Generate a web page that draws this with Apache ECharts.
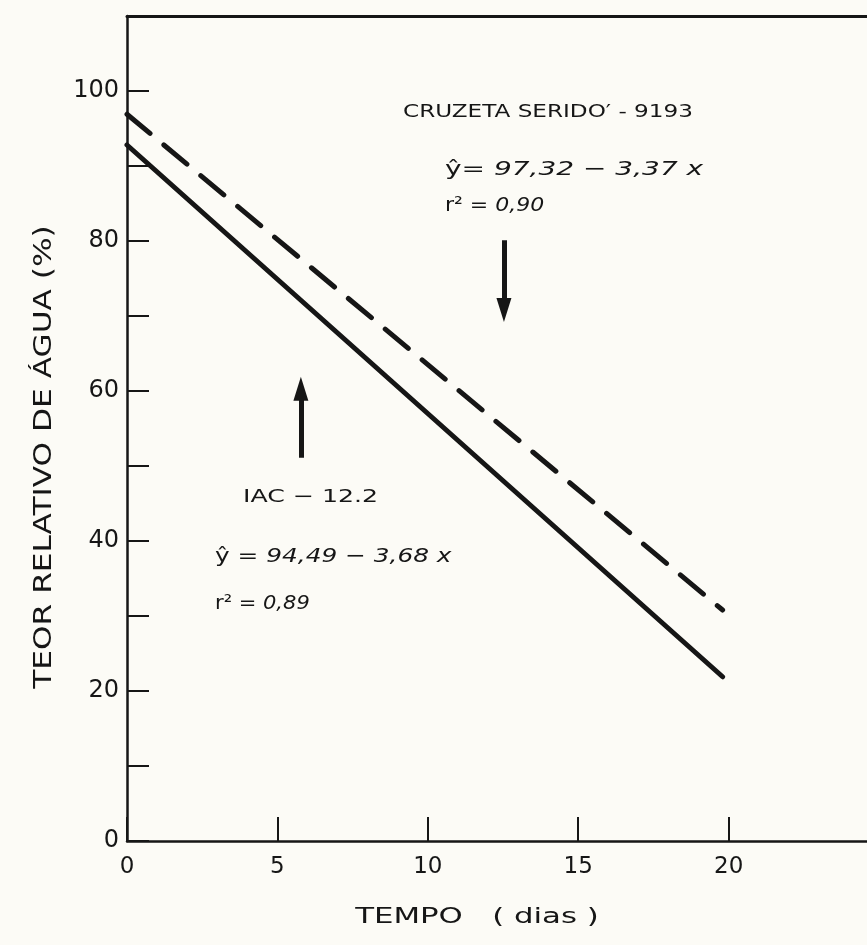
<!DOCTYPE html>
<html>
<head>
<meta charset="utf-8">
<script src="https://cdn.jsdelivr.net/npm/echarts@6/dist/echarts.min.js"></script>
<style>
  html, body { margin: 0; padding: 0; background: #fcfbf6; }
  #chart { width: 867px; height: 945px; }
</style>
</head>
<body>
<div id="chart"></div>
<script>
// Time axis (days) and fitted relative water content (%) for the two cultivars
const days = [0, 19.8];
const iacValues = [92.8, 21.9];        // IAC - 12.2 (solid)
const cruzetaValues = [96.9, 30.8];    // Cruzeta Seridó - 9193 (dashed)
const yTickLabels = [0, 20, 40, 60, 80, 100];
const xTickLabels = [0, 5, 10, 15, 20];

// Arrow annotations: [x, yFrom, yTo] (yTo is where the arrow head is centred)
const cruzetaArrow = [12.53, 80.1, 70.8];
const iacArrow = [5.78, 51.1, 60.3];

const ink = '#161616';
const font = '"DejaVu Sans", "Liberation Sans", sans-serif';

const chart = echarts.init(document.getElementById('chart'), null, { renderer: 'canvas' });

function pairs(xs, ys) { return xs.map((x, i) => [x, ys[i]]); }

function arrowLine(a) {
  return {
    silent: true,
    symbol: ['none', 'triangle'],
    symbolSize: [15, 24],
    label: { show: false },
    lineStyle: { color: ink, width: 5, type: 'solid' },
    data: [[{ coord: [a[0], a[1]] }, { coord: [a[0], a[2]] }]]
  };
}

// Hand-lettered annotations are wide, so text is stretched horizontally
function note(x, y, text, size, stretch, rich) {
  const style = { text: text, fill: ink, font: size + 'px ' + font, textVerticalAlign: 'middle' };
  if (rich) {
    style.rich = {
      u: { fill: ink, font: size + 'px ' + font },
      i: { fill: ink, font: 'italic ' + size + 'px ' + font }
    };
  }
  return { type: 'text', x: x, y: y, scaleX: stretch, scaleY: 1, style: style };
}

chart.setOption({
  backgroundColor: '#fcfbf6',
  animation: false,
  grid: { left: 127, right: 0, top: 16, bottom: 104, containLabel: false },
  xAxis: [{
    type: 'value', min: 0, max: 24.6, interval: 5,
    axisLine: { show: true, onZero: false, lineStyle: { color: ink, width: 2.5 } },
    axisTick: { show: true, inside: true, length: 24, lineStyle: { color: ink, width: 2 } },
    axisLabel: {
      show: true, margin: 15, color: ink, fontFamily: font, fontSize: 23,
      showMaxLabel: false,
      formatter: v => (xTickLabels.indexOf(v) >= 0 ? String(v) : '')
    },
    splitLine: { show: false }
  }, {
    type: 'value', position: 'top', min: 0, max: 24.6,
    axisLine: { show: true, onZero: false, lineStyle: { color: ink, width: 3 } },
    axisTick: { show: false }, axisLabel: { show: false }, splitLine: { show: false }
  }],
  yAxis: {
    type: 'value', min: 0, max: 110, interval: 10,
    axisLine: { show: true, onZero: false, lineStyle: { color: ink, width: 2.5 } },
    axisTick: { show: true, inside: true, length: 22, lineStyle: { color: ink, width: 2 } },
    axisLabel: {
      show: true, margin: 8, color: ink, fontFamily: font, fontSize: 24,
      formatter: v => (yTickLabels.indexOf(v) >= 0 ? String(v) : '')
    },
    splitLine: { show: false }
  },
  series: [{
    name: 'IAC - 12.2', type: 'line', xAxisIndex: 0,
    data: pairs(days, iacValues), symbol: 'none',
    lineStyle: { color: ink, width: 5, cap: 'round' },
    markLine: arrowLine(iacArrow)
  }, {
    name: 'CRUZETA SERIDO′ - 9193', type: 'line', xAxisIndex: 0,
    data: pairs(days, cruzetaValues), symbol: 'none',
    lineStyle: { color: ink, width: 5, type: [30, 18], cap: 'round' },
    markLine: arrowLine(cruzetaArrow)
  }],
  graphic: [
    note(403, 113, 'CRUZETA SERIDO′ - 9193', 17, 1.36),
    note(445, 170, '{u|ŷ=} {i|97,32 − 3,37 x}', 20, 1.4, true),
    note(445, 206, '{u|r² =} {i|0,90}', 20, 1.1, true),
    note(243, 497, 'IAC − 12.2', 18, 1.4),
    note(215, 557, '{u|ŷ =} {i|94,49 − 3,68 x}', 20, 1.24, true),
    note(215, 604, '{u|r² =} {i|0,89}', 20, 1.05, true),
    {
      type: 'text', x: 45, y: 457, rotation: Math.PI / 2, scaleX: 1.3, scaleY: 1,
      style: { text: 'TEOR RELATIVO DE ÁGUA (%)', fill: ink, font: '24px ' + font, textAlign: 'center', textVerticalAlign: 'middle' }
    },
    {
      type: 'text', x: 477, y: 917, scaleX: 1.4, scaleY: 1,
      style: { text: 'TEMPO   ( dias )', fill: ink, font: '22px ' + font, textAlign: 'center', textVerticalAlign: 'middle' }
    }
  ]
});
</script>
</body>
</html>
